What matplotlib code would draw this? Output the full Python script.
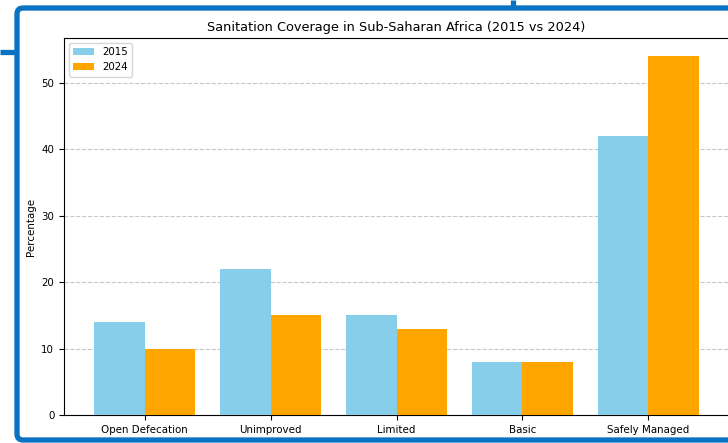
import numpy as np
import matplotlib
matplotlib.use('Agg')
import matplotlib.pyplot as plt
from matplotlib.patches import FancyBboxPatch

categories = ['Open Defecation', 'Unimproved', 'Limited', 'Basic', 'Safely Managed']
vals_2015 = [14, 22, 15, 8, 42]
vals_2024 = [10, 15, 13, 8, 54]

W, H = 728, 443
fig = plt.figure(figsize=(W / 100, H / 100), dpi=100)

# screenshot frame behind the chart
bg = fig.add_axes([0, 0, 1, 1])
bg.set_xlim(0, W)
bg.set_ylim(H, 0)
bg.axis('off')
blue = '#0a72c2'
frame = FancyBboxPatch((17, 8), 800, 432, boxstyle='round,pad=0,rounding_size=6',
                       fill=False, edgecolor=blue, linewidth=3.8)
bg.add_patch(frame)
bg.plot([0, 17], [52, 52], color=blue, lw=3.8, solid_capstyle='butt')
bg.plot([513, 513], [0, 8], color=blue, lw=3.8, solid_capstyle='butt')

# chart axes (pixels -> figure fractions)
left, right, top, bottom = 64, 729, 38, 415
ax = fig.add_axes([left / W, 1 - bottom / H, (right - left) / W, (bottom - top) / H])

x = np.arange(len(categories))
w = 0.4
ax.bar(x - w / 2, vals_2015, w, label='2015', color='skyblue', zorder=3)
ax.bar(x + w / 2, vals_2024, w, label='2024', color='orange', zorder=3)

ax.set_xticks(x)
ax.set_xticklabels(categories, fontsize=7.4)
ax.tick_params(axis='both', labelsize=7.4)
ax.set_ylabel('Percentage', fontsize=7.4)
ax.set_title('Sanitation Coverage in Sub-Saharan Africa (2015 vs 2024)', fontsize=9.3, pad=5)
ax.grid(axis='y', linestyle='--', alpha=0.7, zorder=0)
ax.legend(loc='upper left', fontsize=7.4)

plt.savefig('out.png', dpi=100)
